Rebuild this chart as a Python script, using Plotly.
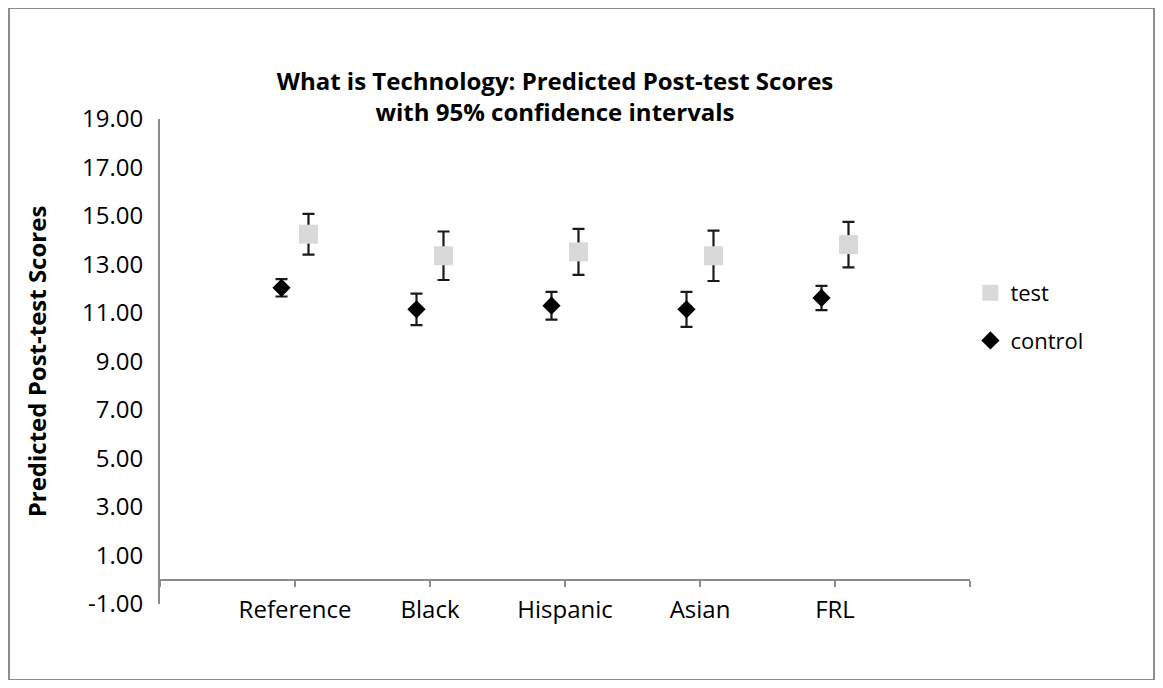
import plotly.graph_objects as go

categories = ["Reference", "Black", "Hispanic", "Asian", "FRL"]
cat_pos = [1, 2, 3, 4, 5]
control_vals = [12.04, 11.15, 11.30, 11.15, 11.62]
control_err = [0.36, 0.65, 0.57, 0.72, 0.50]
test_vals = [14.25, 13.36, 13.52, 13.36, 13.82]
test_err = [0.84, 1.00, 0.95, 1.04, 0.94]
y_tick_vals = [-1, 1, 3, 5, 7, 9, 11, 13, 15, 17, 19]
y_tick_text = ["-1.00", "1.00", "3.00", "5.00", "7.00", "9.00",
               "11.00", "13.00", "15.00", "17.00", "19.00"]
offset = 0.1

FONT = "Open Sans"

fig = go.Figure()
fig.add_trace(go.Scatter(
    x=[p + offset for p in cat_pos], y=test_vals, mode="markers", name="test",
    legendgroup="t",
    marker=dict(symbol="square", size=19, color="#d9d9d9"),
    error_y=dict(type="data", array=test_err, symmetric=True, thickness=2.2, width=6, color="#1a1a1a"),
))
fig.add_trace(go.Scatter(
    x=[p - offset for p in cat_pos], y=control_vals, mode="markers", name="control",
    legendgroup="c",
    marker=dict(symbol="diamond", size=14, color="black"),
    error_y=dict(type="data", array=control_err, symmetric=True, thickness=2.2, width=6, color="#1a1a1a"),
))

fig.update_layout(
    width=1155, height=672,
    margin=dict(l=152, r=193, t=111, b=76),
    paper_bgcolor="white", plot_bgcolor="white",
    font=dict(family=FONT, size=22, color="black"),
    title=dict(text="<b>What is Technology: Predicted Post-test Scores<br>with 95% confidence intervals</b>",
               x=0.4736, xanchor="center", y=0.8785, yanchor="middle",
               font=dict(family=FONT, size=24, color="black")),
    showlegend=True,
    legend=dict(x=1.0005, xanchor="left", y=0.6845, yanchor="top",
                traceorder="grouped", tracegroupgap=16,
                font=dict(family=FONT, size=22, color="black"),
                bgcolor="rgba(0,0,0,0)", itemwidth=30),
    xaxis=dict(range=[0, 6], tickvals=[0, 1, 2, 3, 4, 5, 6],
               ticktext=[""] + categories + [""],
               showgrid=False, zeroline=False, showline=True, linecolor="#8c8c8c", linewidth=2,
               ticks="outside", ticklen=6, tickcolor="#8c8c8c", tickwidth=1.5,
               anchor="free", position=0.05,
               tickfont=dict(family=FONT, size=24, color="black"), ticklabelstandoff=2),
    yaxis=dict(range=[-1, 19], tickvals=y_tick_vals, ticktext=y_tick_text,
               showgrid=False, zeroline=False,
               showline=True, linecolor="#8c8c8c", linewidth=2, ticks="",
               tickfont=dict(family=FONT, size=24, color="black"), ticklabelstandoff=10,
               title=dict(text="<b>Predicted Post-test Scores</b>", standoff=29,
                          font=dict(family=FONT, size=24, color="black"))),
)

# outer chart border
fig.add_shape(type="rect", xref="paper", yref="paper",
              x0=-0.1864, x1=1.2272, y0=-0.1567, y1=1.2289,
              line=dict(color="#8c8c8c", width=2), fillcolor="rgba(0,0,0,0)", layer="below")

fig.write_html("out.html")
